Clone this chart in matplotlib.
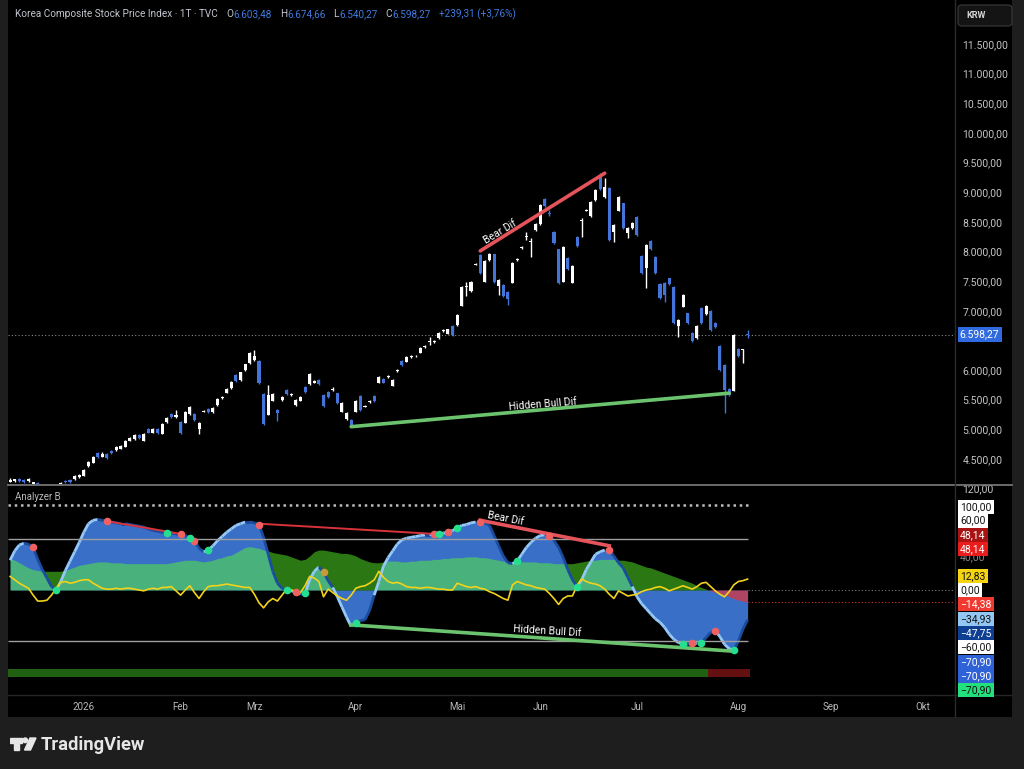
import numpy as np
import matplotlib
matplotlib.use("Agg")
import matplotlib.pyplot as plt
from matplotlib.collections import LineCollection
from matplotlib.patches import Rectangle, FancyBboxPatch, Polygon, Circle
from matplotlib.lines import Line2D
from matplotlib.offsetbox import TextArea, HPacker, AnchoredOffsetbox
from matplotlib.ticker import FuncFormatter

plt.rcParams['font.family'] = ['Roboto', 'DejaVu Sans']

# ---- daily candles (KOSPI, Dec 2025 - Aug 2026) ----
open_ = [4120, 4125, 4160, 4150, 4130, 4075, 4095, 4060, 4030, 4010, 4040, 4075, 4130, 4140, 4160, 4195,
         4220, 4385, 4440, 4595, 4540, 4585, 4640, 4655, 4675, 4710, 4810, 4835, 4905, 4805, 5000, 4945,
         5000, 4925, 5130, 5255, 5205, 5130, 5110, 5260, 5260, 5000, 5300, 5345, 5285, 5410, 5525, 5620,
         5695, 5915, 5825, 6000, 6115, 6170, 6160, 5590, 5245, 5485, 5325, 5490, 5665, 5585, 5410, 5480,
         5710, 5765, 5790, 5830, 5580, 5635, 5665, 5605, 5295, 5170, 5155, 5300, 5560, 5385, 5455, 5560,
         5790, 5845, 5880, 5735, 5980, 6150, 6140, 6215, 6230, 6295, 6395, 6480, 6470, 6535, 6665, 6610,
         6740, 6760, 7085, 7395, 7335, 7780, 7940, 7490, 7855, 7950, 7425, 7430, 7320, 7475, 7860, 8055,
         8240, 8165, 8360, 8465, 8880, 8650, 8330, 8035, 7490, 7895, 7475, 8245, 8520, 8690, 8600, 8870,
         9290, 8915, 9065, 8335, 8690, 8810, 8305, 8390, 8585, 7920, 7720, 8175, 7910, 7450, 7470, 7545,
         7405, 6750, 7070, 6955, 6630, 6535, 7050, 6945, 6995, 6800, 6400, 6085, 5675, 5650, 6350, 6340,
         6603.48]
close = [4150, 4155, 4125, 4115, 4165, 4105, 4070, 4030, 4010, 4040, 4060, 4100, 4110, 4120, 4215, 4225,
         4315, 4455, 4530, 4530, 4585, 4520, 4600, 4705, 4725, 4800, 4850, 4905, 4850, 4915, 4945, 5000,
         4935, 5085, 5185, 5205, 5240, 4935, 5295, 5370, 5150, 5100, 5315, 5295, 5365, 5520, 5540, 5680,
         5800, 5820, 5960, 6095, 6295, 6240, 5780, 5090, 5575, 5590, 5270, 5545, 5600, 5600, 5495, 5550,
         5635, 5930, 5810, 5765, 5395, 5550, 5680, 5450, 5445, 5280, 5050, 5480, 5330, 5400, 5475, 5470,
         5885, 5790, 5895, 5830, 5995, 6085, 6225, 6235, 6240, 6380, 6410, 6495, 6485, 6630, 6680, 6685,
         6590, 6925, 7395, 7410, 7490, 7795, 7630, 7835, 7965, 7480, 7515, 7250, 7195, 7800, 7875, 8070,
         8255, 8180, 8470, 8780, 8770, 8640, 8140, 7465, 8080, 7700, 7750, 8090, 8535, 8705, 8835, 9045,
         9050, 9090, 8195, 8445, 8915, 8390, 8390, 8475, 8280, 7630, 8105, 8035, 7640, 7210, 7265, 7450,
         6790, 6840, 7265, 6800, 6490, 6740, 6790, 7085, 6675, 6730, 6000, 5665, 5580, 6590, 6240, 6355,
         6598.27]
high = [4175, 4170, 4180, 4165, 4180, 4120, 4110, 4075, 4045, 4055, 4075, 4115, 4145, 4155, 4230, 4240,
        4330, 4470, 4550, 4615, 4625, 4600, 4655, 4720, 4740, 4815, 4865, 4920, 4920, 4930, 5015, 5015,
        5015, 5100, 5200, 5270, 5320, 5145, 5310, 5390, 5275, 5120, 5330, 5360, 5380, 5535, 5555, 5695,
        5815, 5930, 5975, 6110, 6310, 6330, 6175, 5610, 5750, 5610, 5340, 5560, 5680, 5615, 5510, 5565,
        5725, 5945, 5825, 5845, 5595, 5650, 5720, 5620, 5460, 5295, 5170, 5495, 5575, 5415, 5490, 5575,
        5900, 5860, 5910, 5845, 6010, 6165, 6240, 6250, 6255, 6395, 6425, 6560, 6500, 6645, 6695, 6700,
        6755, 6940, 7410, 7480, 7505, 7810, 7955, 7850, 7980, 7965, 7530, 7445, 7335, 7815, 7890, 8085,
        8330, 8230, 8485, 8795, 8900, 8700, 8345, 8050, 8095, 7910, 7765, 8260, 8560, 8720, 8850, 9060,
        9330, 9240, 9080, 8460, 8930, 8825, 8405, 8490, 8600, 7935, 8120, 8190, 7925, 7465, 7485, 7560,
        7420, 6855, 7280, 6970, 6645, 6755, 7065, 7100, 7010, 6815, 6415, 6100, 5690, 6605, 6365, 6360,
        6674.66]
low = [4105, 4110, 4110, 4100, 4120, 4060, 4050, 4010, 3990, 3995, 4025, 4060, 4095, 4100, 4150, 4180,
       4210, 4370, 4425, 4515, 4530, 4505, 4585, 4640, 4665, 4700, 4800, 4825, 4835, 4795, 4930, 4935,
       4920, 4915, 5115, 5190, 5195, 4920, 5100, 5250, 5135, 4920, 5285, 5280, 5275, 5400, 5510, 5610,
       5685, 5805, 5815, 5990, 6105, 6160, 5765, 5070, 5235, 5470, 5140, 5475, 5585, 5570, 5400, 5470,
       5620, 5755, 5775, 5750, 5380, 5535, 5650, 5435, 5285, 5160, 5040, 5290, 5315, 5370, 5440, 5455,
       5780, 5775, 5865, 5725, 5965, 6070, 6130, 6200, 6215, 6285, 6380, 6420, 6455, 6525, 6650, 6600,
       6575, 6750, 7075, 7250, 7325, 7765, 7615, 7480, 7845, 7465, 7260, 7235, 7100, 7465, 7845, 8040,
       8200, 7910, 8350, 8455, 8755, 8600, 8125, 7450, 7480, 7685, 7465, 8075, 8250, 8675, 8590, 8860,
       9035, 8905, 8180, 8160, 8680, 8375, 8220, 8380, 8265, 7615, 7380, 8020, 7625, 7195, 7150, 7435,
       6775, 6550, 7060, 6785, 6475, 6525, 6775, 6935, 6660, 6715, 5985, 5275, 5565, 5640, 6225, 6120,
       6540.27]
last_change = 239.31
last_change_pct = 3.76

# ---- indicator "Analyzer B" ----
osc = [35, 46, 53, 55, 54, 50, 36, 24, 14, 4, 0, 10, 23, 34, 45, 56, 68, 78, 82, 83, 82, 81, 80, 79, 78,
       78, 77, 76, 75, 74, 72, 70, 69, 68, 67, 67, 66, 66, 64, 61, 58, 49, 45, 47, 52, 58, 63, 68, 72, 76,
       78, 80, 80, 79, 77, 62, 42, 22, 8, 2, 0, -1, -2, -5, -4, 12, 22, 27, 21, 11, 3, -8, -20, -32, -43,
       -39, -36, -35, -24, -6, 10, 28, 38, 46, 54, 59, 61, 62, 63, 64, 65, 65, 66, 66, 67, 68, 70, 73, 76,
       77, 79, 80, 80, 79, 76, 64, 52, 40, 32, 31, 34, 42, 50, 56, 61, 64, 65, 64, 58, 50, 38, 24, 12, 4,
       12, 24, 33, 42, 45, 47, 47, 40, 32, 26, 15, 4, -8, -16, -22, -28, -34, -38, -44, -52, -58, -62, -63,
       -63, -62, -63, -62, -56, -50, -48, -55, -64, -69, -71, -60, -46, -34.93]
trend = [37, 35, 32, 29, 26, 24, 23, 22, 22, 22, 22, 22, 23, 25, 27, 29, 30, 31, 32, 33, 33, 33, 32, 32,
         32, 31, 31, 31, 31, 31, 31, 31, 31, 31, 31, 32, 33, 34, 35, 35, 35, 34, 33, 34, 35, 37, 38, 40, 41,
         44, 47, 50, 51, 50, 49, 47, 46, 44, 43, 42, 41, 39, 37, 35, 36, 40, 45, 47, 47, 46, 45, 44, 43, 43,
         42, 40, 37, 35, 33, 32, 32, 33, 34, 34, 34, 33, 33, 34, 34, 35, 35, 35, 36, 36, 37, 37, 38, 38, 38,
         39, 39, 39, 38, 38, 37, 36, 35, 34, 33, 33, 33, 33, 33, 33, 33, 32, 32, 32, 31, 31, 31, 31, 31, 32,
         33, 34, 35, 35, 36, 36, 36, 36, 35, 35, 34, 33, 31, 29, 27, 26, 24, 22, 20, 18, 16, 14, 12, 10, 8,
         5, 3, 1, -1, -3, -4, -6, -8, -10, -12, -13, -14.38]
fast = [16, 12, 8, 5, 2, -6, -13, -13, -12, -6, 2, 9, 10, 8, 9, 11, 12, 12, 8, 5, 2, 1, 1, 2, 1, 2, 2, 1,
        0, -1, 1, 2, 1, 3, 3, 4, -1, -6, 0, 5, -3, -10, -2, 4, 5, 5, 6, 7, 6, 5, 4, 3, 3, -5, -15, -21, -14,
        -10, -13, -6, 1, 0, -2, -3, 5, 16, 14, 10, -8, 1, -3, -7, -10, -12, -6, 2, 4, 5, 8, 12, 22, 15, 10,
        8, 9, 7, 4, 3, 3, 2, 3, 3, 2, 1, 1, 0, 0, 8, 6, 4, 3, 4, 2, 1, -2, -4, -7, -10, -12, 6, 10, 8, 6, 5,
        3, 2, 1, -4, -10, -17, -10, -7, -7, 5, 13, 10, 8, 7, 5, 1, -5, -10, -1, -4, -7, -6, -5, -2, 0, 1, 3,
        4, 2, -1, 1, 3, 5, 3, 1, 4, 8, 9, 4, -1, -5, -8, -2, 6, 10, 11, 12.83]
band_state = [1] * 152 + [-1] * 9
red_dots = [5, 21, 37, 40, 54, 62, 92, 95, 102, 117, 130, 148, 153]
green_dots = [10, 34, 39, 43, 60, 64, 75, 93, 97, 110, 123, 146, 150, 157]
orange_dots = [68]

# divergences: (bar, value) pairs
price_bear = [(102, 8010), (129, 9320)]
price_bull = [(74, 5045), (156, 5610)]
osc_bear_thin = [[(21, 81), (37, 66)], [(54, 78), (92, 66)]]
osc_bear = [(102, 82), (130, 52)]
osc_bull = [(74, -41), (157, -72)]

months = ['2026', 'Feb', 'Mrz', 'Apr', 'Mai', 'Jun', 'Jul', 'Aug', 'Sep', 'Okt']
month_bar = [16, 37, 53, 75, 97, 115, 136, 158, 178, 198]

# right-hand value tags of the indicator (top to bottom), pixel rows as stacked by the chart
tag_text = ['100,00', '60,00', '40,00', '48,14', '48,14', '12,83', '0,00', '\u221214,38', '\u221234,93',
            '\u221247,75', '\u221260,00', '\u221270,90', '\u221270,90', '\u221270,90']
tag_bg = ['#ffffff', '#ffffff', None, '#a81414', '#ea1c1c', '#f5d412', '#ffffff', '#f03a30', '#93c6f2',
          '#0f3f92', '#ffffff', '#2f62d6', '#2f62d6', '#22e07c']
tag_fg = ['#111', '#111', '#888', 'w', 'w', '#111', '#111', 'w', '#111', 'w', '#111', 'w', 'w', '#111']
tag_row = [507, 520.5, 557, 535, 549, 576, 590, 604, 619, 633.5, 647, 662, 676, 690]


def de(v):
    s = f"{v:,.2f}"
    return s.replace(',', 'X').replace('.', ',').replace('X', '.')


W, H = 1024, 769


def fx(px):
    return px / W


def fy(py):
    return 1 - py / H


fig = plt.figure(figsize=(W / 100, H / 100), dpi=100, facecolor='#1e1e1e')
fig.patches.append(Rectangle((fx(8), fy(717)), (1012 - 8) / W, 717 / H, transform=fig.transFigure,
                             facecolor='black', edgecolor='none', zorder=-5))

ax = fig.add_axes([fx(8), fy(484), (955 - 8) / W, 484 / H])
ax2 = fig.add_axes([fx(8), fy(695), (955 - 8) / W, (695 - 485) / H], sharex=ax)
for a in (ax, ax2):
    a.set_facecolor('black')
    for s in a.spines.values():
        s.set_visible(False)

o = np.array(open_)
c = np.array(close)
hi = np.array(high)
lo = np.array(low)
x = np.arange(len(c))
up = c >= o
cols = np.where(up, '#ffffff', '#4274da')

ax.vlines(x, lo, hi, colors=cols, lw=1, zorder=3)
ax.bar(x, np.maximum(np.abs(c - o), 12), bottom=np.minimum(o, c), width=0.66, color=cols, lw=0, zorder=4)
ax.axhline(c[-1], color='#8a8a8a', ls=(0, (1, 2)), lw=0.8, zorder=1)

ax.set_xlim(-0.45, 205)
ax.set_ylim(4078, 12242)
ax.yaxis.tick_right()
# 6.500 sits under the last-price tag, so it is left out
ax.set_yticks([v for v in range(4500, 11501, 500) if v != 6500])
ax.yaxis.set_major_formatter(FuncFormatter(lambda v, p: de(v)))
ax.tick_params(axis='y', colors='#c4c4c4', labelsize=7.5, length=0, pad=5.5)
ax.tick_params(axis='x', bottom=False, labelbottom=False)

ax.plot(*zip(*price_bear), color='#e5535b', lw=2.6, solid_capstyle='round', zorder=5)
ax.plot(*zip(*price_bull), color='#6cc36e', lw=2.6, solid_capstyle='round', zorder=5)
ax.text(106.3, 8330, 'Bear Dif', color='white', fontsize=7.5, rotation=31, ha='center', va='center',
        rotation_mode='anchor', zorder=6)
ax.text(115.5, 5420, 'Hidden Bull Dif', color='white', fontsize=7.5, rotation=4.5, ha='center',
        va='center', rotation_mode='anchor', zorder=6)

ax.annotate(de(c[-1]), xy=(1, c[-1]), xycoords=ax.get_yaxis_transform(), xytext=(3.5, 0),
            textcoords='offset points', ha='left', va='center', fontsize=7.5, color='white',
            bbox=dict(boxstyle='square,pad=0.22', fc='#2f6ae0', ec='none'), annotation_clip=False)

# ---- indicator pane ----
osc_a = np.array(osc, dtype=float)
tr = np.array(trend, dtype=float)
fa = np.array(fast, dtype=float)

ax2.fill_between(x, 0, osc_a, color='#3a6fc8', lw=0, interpolate=True, zorder=2)
ax2.fill_between(x, 0, tr, where=tr >= 0, color=(0.35, 0.98, 0.16), alpha=0.48, lw=0,
                 interpolate=True, zorder=3)
ax2.fill_between(x, 0, tr, where=tr <= 0, color=(1.0, 0.16, 0.12), alpha=0.6, lw=0,
                 interpolate=True, zorder=3)

segs = [[(x[i], osc_a[i]), (x[i + 1], osc_a[i + 1])] for i in range(len(x) - 1)]
seg_cols = ['#93c8f8' if abs(osc_a[i + 1]) > abs(osc_a[i]) else '#1c4c9e' for i in range(len(x) - 1)]
ax2.add_collection(LineCollection(segs, colors=seg_cols, linewidths=2.0, zorder=4))

ax2.hlines(100, -0.45, x[-1], colors='#bdbdbd', linestyles=(0, (1, 1.5)), lw=1.8, zorder=4)
ax2.hlines([60, -60], -0.45, x[-1], colors='#9e9e9e', lw=1.0, zorder=4)
ax2.hlines(0, x[-1], 205, colors='#7a7a7a', linestyles=(0, (1, 2)), lw=0.8)
ax2.hlines(tr[-1], x[-1], 205, colors='#c83030', linestyles=(0, (1, 2)), lw=0.8)

ax2.plot(x, fa, color='#f2d21b', lw=1.2, zorder=5)

band_cols = ['#1f6012' if s > 0 else '#641010' for s in band_state]
ax2.bar(x, 9, bottom=-102, width=1.0, color=band_cols, lw=0, zorder=2)

for (p0, p1) in osc_bear_thin:
    ax2.plot([p0[0], p1[0]], [p0[1], p1[1]], color='#d8323a', lw=1.4, zorder=6)
ax2.plot(*zip(*osc_bear), color='#e5535b', lw=2.6, zorder=6)
ax2.plot(*zip(*osc_bull), color='#6cc36e', lw=2.6, zorder=6)
ax2.scatter(x[red_dots], osc_a[red_dots], s=30, color='#f06262', lw=0, zorder=7)
ax2.scatter(x[green_dots], osc_a[green_dots], s=30, color='#24e08e', lw=0, zorder=7)
ax2.scatter(x[orange_dots], osc_a[orange_dots], s=30, color='#c79a3a', lw=0, zorder=7)
ax2.text(107.5, 84, 'Bear Dif', color='white', fontsize=7.5, rotation=-11, ha='center', va='center',
         rotation_mode='anchor', zorder=8)
ax2.text(116.5, -48, 'Hidden Bull Dif', color='white', fontsize=7.5, rotation=-3.5, ha='center',
         va='center', rotation_mode='anchor', zorder=8)

ax2.set_ylim(-123.5, 123.5)
ax2.yaxis.tick_right()
ax2.set_yticks([120])
ax2.yaxis.set_major_formatter(FuncFormatter(lambda v, p: de(v)))
ax2.tick_params(axis='y', colors='#c4c4c4', labelsize=7.5, length=0, pad=5.5)
ax2.set_xticks(month_bar)
ax2.set_xticklabels(months)
ax2.tick_params(axis='x', colors='#b8b8b8', labelsize=7, length=0, pad=5)

for t, bg, fg, row in zip(tag_text, tag_bg, tag_fg, tag_row):
    box = None if bg is None else dict(boxstyle='square,pad=0.22', fc=bg, ec='none')
    fig.text(fx(960), fy(row), t, color=fg, fontsize=7.5, ha='left', va='center', bbox=box,
             zorder=5 if bg else 4)

# ---- frame lines ----
fig.add_artist(Line2D([fx(8), fx(1012)], [fy(484.5), fy(484.5)], color='#7d7d7d', lw=1.2))
fig.add_artist(Line2D([fx(955), fx(955)], [fy(0), fy(717)], color='#2c2c2c', lw=1))
fig.add_artist(Line2D([fx(8), fx(1012)], [fy(695), fy(695)], color='#262626', lw=1))

# ---- header ----
blue = '#3f7be0'
grey = '#c3c6ce'
tp = dict(fontsize=7.2)
groups = [TextArea('Korea Composite Stock Price Index \u00b7 1T \u00b7 TVC', textprops=dict(color=grey, **tp))]
for lab, val in zip('OHLC', [o[-1], hi[-1], lo[-1], c[-1]]):
    groups.append(HPacker(children=[TextArea(lab, textprops=dict(color=grey, **tp)),
                                    TextArea(de(val), textprops=dict(color=blue, **tp))],
                          pad=0, sep=0, align='baseline'))
groups.append(TextArea(f"+{de(last_change)} (+{de(last_change_pct)}%)", textprops=dict(color=blue, **tp)))
header = HPacker(children=groups, pad=0, sep=6, align='baseline')
fig.add_artist(AnchoredOffsetbox(loc='upper left', child=header, pad=0, frameon=False, borderpad=0,
                                 bbox_to_anchor=(fx(15), fy(8)), bbox_transform=fig.transFigure))

fig.text(fx(15), fy(497), 'Analyzer B', color='#b8b8b8', fontsize=7, ha='left', va='center')

fig.patches.append(FancyBboxPatch((fx(958), fy(26)), 54 / W, 21 / H,
                                  boxstyle='round,pad=0,rounding_size=0.004', transform=fig.transFigure,
                                  fc='#141414', ec='#3a3a3a', lw=0.8))
fig.text(fx(966), fy(15.5), 'KRW', color='#d6d6d6', fontsize=6.5, weight='bold', ha='left', va='center')

# ---- TradingView logo ----
lax = fig.add_axes([fx(10), fy(753), 27 / W, 18 / H])
lax.set_xlim(0, 27)
lax.set_ylim(18, 0)
lax.axis('off')
logo = '#e6e6e6'
lax.add_patch(Polygon([(0, 3), (12, 3), (12, 7.5), (9, 7.5), (9, 15), (4, 15), (4, 7.5), (0, 7.5)], color=logo))
lax.add_patch(Circle((15.2, 5.3), 2.3, color=logo))
lax.add_patch(Polygon([(20, 3), (26, 3), (20.5, 15), (14.5, 15)], color=logo))
fig.text(fx(41), fy(745), 'TradingView', color=logo, fontsize=13.2, weight='bold', ha='left', va='center')

fig.savefig('out.png', dpi=100, facecolor=fig.get_facecolor())
